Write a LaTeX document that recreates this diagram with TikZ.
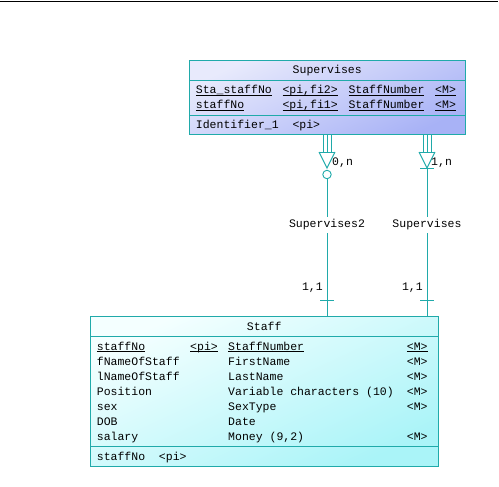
\documentclass[tikz,border=0pt]{standalone}
\usepackage{fontspec}
\setmonofont{Liberation Mono}
\definecolor{teal1}{RGB}{32,170,170}
\definecolor{supA}{RGB}{232,234,252}
\definecolor{supB}{RGB}{168,178,246}
\definecolor{stA}{RGB}{244,255,255}
\definecolor{stB}{RGB}{170,244,248}
\newcommand\myul[1]{\underline{\smash{#1}}}
\begin{document}
\begin{tikzpicture}[x=1pt,y=-1pt,
  every node/.style={font=\ttfamily\fontsize{11.5}{14}\selectfont, inner sep=0pt, text=black},
  entbox/.style={draw=teal1, line width=1pt, rectangle},
  border/.style={draw=teal1, line width=1pt},
  conn/.style={draw=teal1, line width=0.9pt},
  txt/.style={anchor=base west},
  rlabel/.style={fill=white, inner sep=2.5pt}]
\useasboundingbox (0,0) rectangle (499,487);
\draw[black, line width=1pt] (0,2) -- (498,2);

% entities
\node[entbox, minimum width=275.5pt, minimum height=74pt,
      top color=supA, bottom color=supB, shading angle=25] (sup) at (327.25,98) {};
\node[entbox, minimum width=347.5pt, minimum height=149.5pt,
      top color=stA, bottom color=stB, shading angle=25] (staff) at (264.25,391.25) {};

\coordinate (ya) at (0,81);
\coordinate (yb) at (0,116);
\coordinate (yc) at (0,336);
\coordinate (yd) at (0,446);
\draw[border] (sup.west |- ya) -- (sup.east |- ya);
\draw[border] (sup.west |- yb) -- (sup.east |- yb);
\draw[border] (staff.west |- yc) -- (staff.east |- yc);
\draw[border] (staff.west |- yd) -- (staff.east |- yd);

% Supervises texts
\node[anchor=base] (suptitle) at (327.25,74) {Supervises};
\node[txt] (s1a) at (195.7,94) {\myul{Sta\_staffNo}};
\node[txt] (s1b) at (282.3,94) {\myul{<pi,fi2>}};
\node[txt] (s1c) at (348.3,94) {\myul{StaffNumber}};
\node[txt] (s1d) at (435,94) {\myul{<M>}};
\node[txt] (s2a) at (195.7,109) {\myul{staffNo}};
\node[txt] (s2b) at (282.3,109) {\myul{<pi,fi1>}};
\node[txt] (s2c) at (348.3,109) {\myul{StaffNumber}};
\node[txt] (s2d) at (435,109) {\myul{<M>}};
\node[txt] (s3a) at (195.7,129) {Identifier\_1~~<pi>};

% Staff texts
\node[anchor=base] (sttitle) at (264.25,330) {Staff};
\node[txt] (t1a) at (96.7,350) {\myul{staffNo}};
\node[txt] (t1b) at (190,350) {\myul{<pi>}};
\node[txt] (t1c) at (228,350) {\myul{StaffNumber}};
\node[txt] (t1d) at (406.7,350) {\myul{<M>}};
\node[txt] (t2a) at (96.7,365) {fNameOfStaff};
\node[txt] (t2c) at (228,365) {FirstName};
\node[txt] (t2d) at (406.7,365) {<M>};
\node[txt] (t3a) at (96.7,380) {lNameOfStaff};
\node[txt] (t3c) at (228,380) {LastName};
\node[txt] (t3d) at (406.7,380) {<M>};
\node[txt] (t4a) at (96.7,395) {Position};
\node[txt] (t4c) at (228,395) {Variable characters (10)};
\node[txt] (t4d) at (406.7,395) {<M>};
\node[txt] (t5a) at (96.7,410) {sex};
\node[txt] (t5c) at (228,410) {SexType};
\node[txt] (t5d) at (406.7,410) {<M>};
\node[txt] (t6a) at (96.7,425) {DOB};
\node[txt] (t6c) at (228,425) {Date};
\node[txt] (t7a) at (96.7,440) {salary};
\node[txt] (t7c) at (228,440) {Money (9,2)};
\node[txt] (t7d) at (406.7,440) {<M>};
\node[txt] (t8a) at (96.7,460) {staffNo~~<pi>};

% connector positions
\coordinate (xl) at (327,0);
\coordinate (xr) at (427,0);
\coordinate (yfoot) at (0,152);
\coordinate (ytip) at (0,168);
\coordinate (ytick) at (0,300);

% left connector: 0,n crow's foot with circle
\foreach \d in {-4,0,4}
  \draw[conn] ([xshift=\d pt]sup.south -| xl) -- ([xshift=\d pt]yfoot -| xl);
\draw[conn] ([xshift=-8pt]yfoot -| xl) -- ([xshift=8pt]yfoot -| xl);
\draw[conn] ([xshift=-8pt]yfoot -| xl) -- (ytip -| xl) -- ([xshift=8pt]yfoot -| xl);
\node[circle, draw=teal1, line width=0.9pt, minimum size=8.5pt] (cl) at ([yshift=-6.5pt]ytip -| xl) {};
\draw[conn] (cl.south) -- (staff.north -| xl);
\draw[conn] ([xshift=-7pt]ytick -| xl) -- ([xshift=7pt]ytick -| xl);

% right connector: 1,n crow's foot with bar
\foreach \d in {-4,0,4}
  \draw[conn] ([xshift=\d pt]sup.south -| xr) -- ([xshift=\d pt]yfoot -| xr);
\draw[conn] ([xshift=-8pt]yfoot -| xr) -- ([xshift=8pt]yfoot -| xr);
\draw[conn] ([xshift=-8pt]yfoot -| xr) -- (ytip -| xr) -- ([xshift=8pt]yfoot -| xr);
\draw[conn] ([xshift=-7pt]ytip -| xr) -- ([xshift=7pt]ytip -| xr);
\draw[conn] (ytip -| xr) -- (staff.north -| xr);
\draw[conn] ([xshift=-7pt]ytick -| xr) -- ([xshift=7pt]ytick -| xr);

% labels
\node[rlabel] (lab1) at (327,225) {Supervises2};
\node[rlabel] (lab2) at (427,225) {Supervises};
\node[anchor=west] (c1) at (332,163) {0,n};
\node[anchor=west] (c2) at (431,163) {1,n};
\node[anchor=east] (c3) at (323,288) {1,1};
\node[anchor=east] (c4) at (423,288) {1,1};
\end{tikzpicture}
\end{document}
